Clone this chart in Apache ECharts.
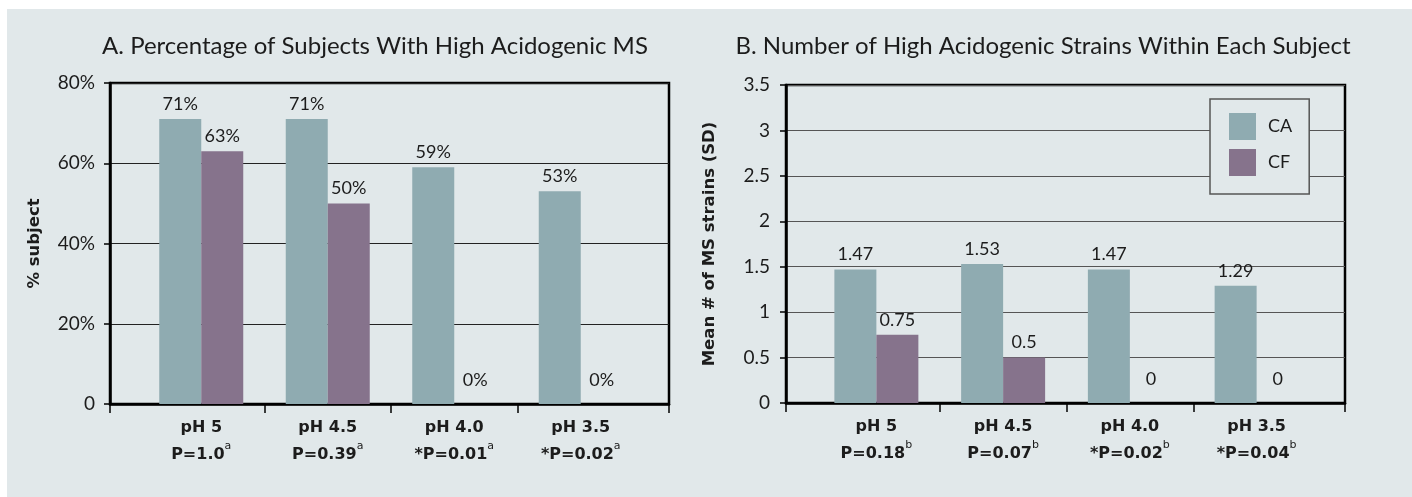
<!DOCTYPE html>
<html><head><meta charset="utf-8">
<script src="https://cdn.jsdelivr.net/npm/echarts@6/dist/echarts.min.js"></script>
<style>
html,body{margin:0;padding:0;background:#fff}
#bg{position:absolute;left:7px;top:9px;width:1405px;height:488px;background:#E1E8EA}
#c{position:absolute;left:0;top:0;width:1412px;height:497px}
</style>
</head><body><div id="bg"></div><div id="c"></div>
<script>
// ---- data ----
const categories = ['pH 5', 'pH 4.5', 'pH 4.0', 'pH 3.5'];
const pLabelsA = ['P=1.0', 'P=0.39', '*P=0.01', '*P=0.02'];
const pLabelsB = ['P=0.18', 'P=0.07', '*P=0.02', '*P=0.04'];
const supA = 'a';
const supB = 'b';
const seriesNames = ['CA', 'CF'];
const pctCA = [71, 71, 59, 53];
const pctCF = [63, 50, 0, 0];
const strainsCA = [1.47, 1.53, 1.47, 1.29];
const strainsCF = [0.75, 0.5, 0, 0];
const yTicksA = [0, 20, 40, 60, 80];
const yTicksB = [0, 0.5, 1, 1.5, 2, 2.5, 3, 3.5];
const titleA = 'A. Percentage of Subjects With High Acidogenic MS';
const titleB = 'B. Number of High Acidogenic Strains Within Each Subject';
const yNameA = '% subject';
const yNameB = 'Mean # of MS strains (SD)';

// ---- style / layout ----
const FONT = 'Lato';
const BOLDFONT = 'DejaVu Sans';
const BG = '#E1E8EA', COL_CA = '#8FABB1', COL_CF = '#86738C', INK = '#1c1c1c';
const panelA = {frameL: 110, frameR: 669, top: 83, bottom: 404, catL: 138, catR: 644, gridColor: '#222', nameGap: 67, labelMargin: 15, titleX: 375};
const panelB = {frameL: 786, frameR: 1345, top: 85, bottom: 403, catL: 813, catR: 1320, gridColor: '#555', nameGap: 68, labelMargin: 16, titleX: 1043};

const grids = [], xAxes = [], yAxes = [], series = [];

function buildPanel(k, cfg, cats, pLabels, sup, vCA, vCF, yTicks, yName, fmtY, fmtBar) {
  const gi = k * 2;
  const frameW = cfg.frameR - cfg.frameL;
  const h = cfg.bottom - cfg.top;
  const catW = (cfg.catR - cfg.catL) / cats.length;
  const off = cfg.catL - cfg.frameL;
  const tickVals = [0];
  for (let i = 1; i < cats.length; i++) tickVals.push(off + i * catW);
  tickVals.push(frameW);
  grids.push({left: cfg.frameL, top: cfg.top, width: frameW, height: h, show: true,
    borderColor: '#000', borderWidth: 2.5, backgroundColor: 'transparent'});
  grids.push({left: cfg.catL, top: cfg.top, width: cfg.catR - cfg.catL, height: h});
  const yMax = yTicks[yTicks.length - 1], yInt = yTicks[1] - yTicks[0];
  xAxes.push({gridIndex: gi, type: 'value', min: 0, max: frameW,
    axisLine: {show: true, lineStyle: {color: '#000', width: 2.5}},
    axisTick: {show: true, customValues: tickVals, length: 9, lineStyle: {color: '#000', width: 1.5}},
    axisLabel: {show: false}, splitLine: {show: false}});
  xAxes.push({gridIndex: gi + 1, type: 'category', data: cats,
    axisLine: {show: false}, axisTick: {show: false}, splitLine: {show: false},
    axisLabel: {margin: 10, interval: 0,
      formatter: (v, i) => '{b|' + v + '}\n{b|' + pLabels[i] + '}{s|' + sup + '}',
      rich: {
        b: {fontSize: 16, fontWeight: 'bold', lineHeight: 27, color: INK, fontFamily: BOLDFONT},
        s: {fontSize: 11, fontWeight: 'normal', lineHeight: 20, verticalAlign: 'top', color: INK, fontFamily: BOLDFONT}
      }}});
  yAxes.push({gridIndex: gi, type: 'value', min: 0, max: yMax, interval: yInt,
    axisLine: {show: true, lineStyle: {color: '#000', width: 2.5}},
    axisTick: {show: true, length: 6, lineStyle: {color: '#000', width: 1.5}},
    axisLabel: {fontSize: 19, color: INK, fontFamily: FONT, margin: cfg.labelMargin, formatter: fmtY},
    splitLine: {show: true, lineStyle: {color: cfg.gridColor, width: 1.2}},
    name: yName, nameLocation: 'middle', nameGap: cfg.nameGap,
    nameTextStyle: {fontSize: 16.5, fontWeight: 'bold', color: INK, fontFamily: BOLDFONT}});
  yAxes.push({gridIndex: gi + 1, type: 'value', min: 0, max: yMax, show: false});
  [[seriesNames[0], vCA, COL_CA], [seriesNames[1], vCF, COL_CF]].forEach(([name, vals, col]) => {
    series.push({type: 'bar', name, xAxisIndex: gi + 1, yAxisIndex: gi + 1,
      barWidth: 42, barGap: '0%',
      itemStyle: {color: col},
      label: {show: true, position: 'top', fontSize: 18, color: INK, fontFamily: FONT, formatter: fmtBar},
      data: vals.map(v => ({value: v, label: {distance: v === 0 ? 15 : 6}}))});
  });
}

buildPanel(0, panelA, categories, pLabelsA, supA, pctCA, pctCF, yTicksA, yNameA,
  v => v === 0 ? '0' : v + '%', p => p.value + '%');
buildPanel(1, panelB, categories, pLabelsB, supB, strainsCA, strainsCF, yTicksB, yNameB,
  v => String(v), p => String(p.value));

const chart = echarts.init(document.getElementById('c'), null, {renderer: 'canvas'});
chart.setOption({
  backgroundColor: 'transparent',
  animation: false,
  textStyle: {fontFamily: FONT},
  grid: grids, xAxis: xAxes, yAxis: yAxes, series,
  legend: {data: seriesNames, orient: 'vertical', left: 1210, top: 99,
    itemWidth: 27, itemHeight: 27, itemGap: 9, icon: 'rect', selectedMode: false,
    padding: [14, 17, 18, 19], borderColor: '#555', borderWidth: 1.5, backgroundColor: BG,
    textStyle: {fontSize: 18, color: INK, fontFamily: FONT, padding: [0, 0, 0, 7]}},
  graphic: [
    {type: 'text', x: panelA.titleX, y: 46, style: {text: titleA, fontSize: 24, fontFamily: FONT, fill: INK, align: 'center', verticalAlign: 'middle'}},
    {type: 'text', x: panelB.titleX, y: 46, style: {text: titleB, fontSize: 24, fontFamily: FONT, fill: INK, align: 'center', verticalAlign: 'middle'}}
  ]
});
</script>
</body></html>
